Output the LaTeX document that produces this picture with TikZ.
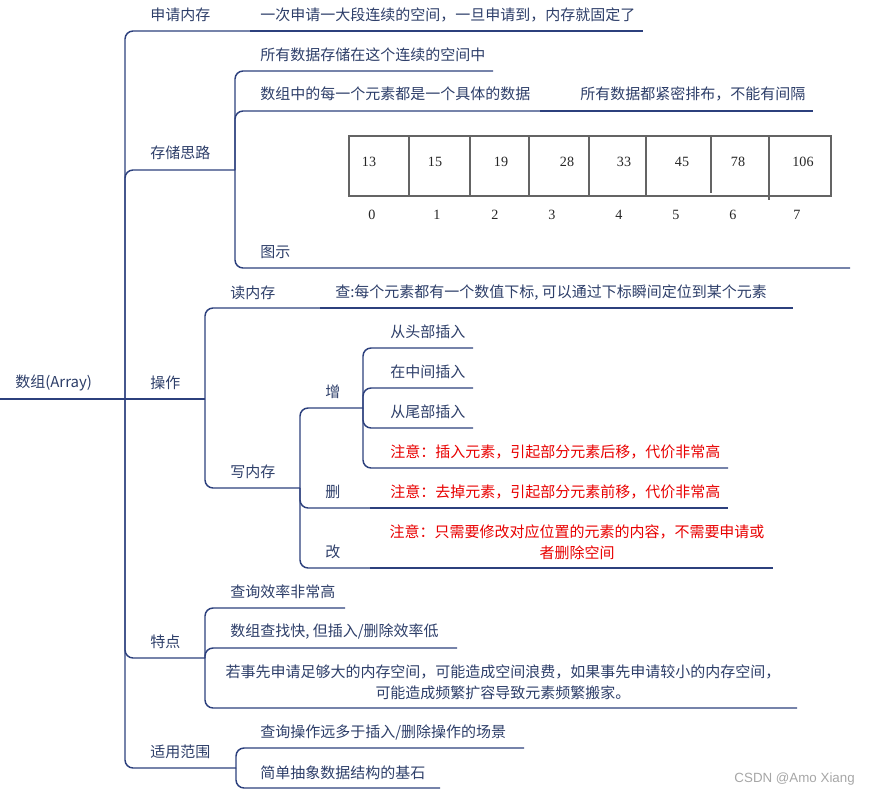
\documentclass[tikz,border=0pt]{standalone}
\usepackage{fontspec}
\setmainfont{Noto Sans CJK SC}
\newfontfamily\numfont{Liberation Serif}
\newfontfamily\wmfont{Liberation Sans}
\definecolor{lc}{RGB}{44,64,125}
\definecolor{tc}{RGB}{45,62,105}
\definecolor{rc}{RGB}{232,0,0}
\definecolor{ac}{RGB}{100,100,100}
\begin{document}
\begin{tikzpicture}[x=0.75pt,y=-0.75pt,
  lnk/.style={draw=lc,line width=1.1pt,rounded corners=6pt},
  tx/.style={anchor=west,inner sep=0pt,text=tc,font=\fontsize{11.25}{15.75}\selectfont},
  txc/.style={tx,anchor=center,align=center},
  rd/.style={tx,text=rc},
  rdc/.style={txc,text=rc},
  arr/.style={draw=ac,line width=0.8pt},
  num/.style={inner sep=0pt,text=black!85,font=\numfont\fontsize{10.6}{12}\selectfont}]
\useasboundingbox (0,0) rectangle (869,796);

% root
\coordinate (r0) at (0,399);
\coordinate (root) at (125,399);
\node[tx] (t-root) at (15,383) {数组(Array)};
\draw[lnk] (r0) -- (root);

% 申请内存
\coordinate (sq) at (250,31);
\coordinate (sqa) at (643,31);
\node[tx] (t-sq) at (150,15) {申请内存};
\node[tx] (t-sqa) at (260,15) {一次申请一大段连续的空间，一旦申请到，内存就固定了};
\draw[lnk] (root) |- (sq);
\draw[lnk] (sq) -- (sqa);

% 存储思路
\coordinate (cc) at (235,170);
\node[tx] (t-cc) at (150,153) {存储思路};
\draw[lnk] (root) |- (cc);
\coordinate (cc1) at (493,71);
\node[tx] (t-cc1) at (260,55) {所有数据存储在这个连续的空间中};
\draw[lnk] (cc) |- (cc1);
\coordinate (cc2) at (540,111);
\coordinate (cc2a) at (813,111);
\node[tx] (t-cc2) at (260,94) {数组中的每一个元素都是一个具体的数据};
\node[tx] (t-cc2a) at (580,94) {所有数据都紧密排布，不能有间隔};
\draw[lnk] (cc) |- (cc2);
\draw[lnk] (cc2) -- (cc2a);
\coordinate (cc3) at (850,268);
\node[tx] (t-cc3) at (260,252) {图示};
\draw[lnk] (cc) |- (cc3);

% array picture
\draw[arr] (349,136) rectangle (831,196);
\foreach \x in {409,470,529,589,646} \draw[arr] (\x,136) -- (\x,196);
\draw[arr] (711,136) -- (711,193);
\draw[arr] (769,136) -- (769,200);
\foreach \v/\x [count=\i] in {13/369,15/435,19/501,28/567,33/624,45/682,78/738,106/803}
  \node[num] (v\i) at (\x,162) {\v};
\foreach \v/\x [count=\i] in {0/372,1/437,2/495,3/552,4/619,5/676,6/733,7/797}
  \node[num] (k\i) at (\x,215) {\v};

% 操作
\coordinate (cz) at (205,399);
\node[tx] (t-cz) at (150,383) {操作};
\draw[lnk] (root) -- (cz);
\coordinate (dn) at (320,308);
\coordinate (dna) at (793,308);
\node[tx] (t-dn) at (230,293) {读内存};
\node[tx] (t-dna) at (335,293) {查:每个元素都有一个数值下标, 可以通过下标瞬间定位到某个元素};
\draw[lnk] (cz) |- (dn);
\draw[lnk] (dn) -- (dna);
\coordinate (xn) at (300,488);
\node[tx] (t-xn) at (230,472) {写内存};
\draw[lnk] (cz) |- (xn);

% 增
\coordinate (zg) at (363,408);
\node[tx] (t-zg) at (325,392) {增};
\draw[lnk] (xn) |- (zg);
\coordinate (zg1) at (473,348);
\coordinate (zg2) at (473,388);
\coordinate (zg3) at (473,428);
\coordinate (zg4) at (728,468);
\node[tx] (t-zg1) at (390,332) {从头部插入};
\node[tx] (t-zg2) at (390,372) {在中间插入};
\node[tx] (t-zg3) at (390,412) {从尾部插入};
\node[rd] (t-zg4) at (390,452) {注意：插入元素，引起部分元素后移，代价非常高};
\draw[lnk] (zg) |- (zg1);
\draw[lnk] (zg) |- (zg2);
\draw[lnk] (zg) |- (zg3);
\draw[lnk] (zg) |- (zg4);

% 删
\coordinate (sc) at (370,508);
\coordinate (sca) at (728,508);
\node[tx] (t-sc) at (325,492) {删};
\node[rd] (t-sca) at (390,492) {注意：去掉元素，引起部分元素前移，代价非常高};
\draw[lnk] (xn) |- (sc);
\draw[lnk] (sc) -- (sca);

% 改
\coordinate (gg) at (370,568);
\coordinate (gga) at (773,568);
\node[tx] (t-gg) at (325,552) {改};
\node[rdc] (t-gga) at (577,542) {注意：只需要修改对应位置的元素的内容，不需要申请或\\者删除空间};
\draw[lnk] (xn) |- (gg);
\draw[lnk] (gg) -- (gga);

% 特点
\coordinate (td) at (205,658);
\node[tx] (t-td) at (150,642) {特点};
\draw[lnk] (root) |- (td);
\coordinate (td1) at (345,608);
\coordinate (td2) at (457,648);
\coordinate (td3) at (797,708);
\node[tx] (t-td1) at (230,592) {查询效率非常高};
\node[tx] (t-td2) at (230,632) {数组查找快, 但插入/删除效率低};
\node[txc] (t-td3) at (503,682) {若事先申请足够大的内存空间，可能造成空间浪费，如果事先申请较小的内存空间，\\可能造成频繁扩容导致元素频繁搬家。};
\draw[lnk] (td) |- (td1);
\draw[lnk] (td) |- (td2);
\draw[lnk] (td) |- (td3);

% 适用范围
\coordinate (sy) at (236,768);
\node[tx] (t-sy) at (150,752) {适用范围};
\draw[lnk] (root) |- (sy);
\coordinate (sy1) at (524,748);
\coordinate (sy2) at (440,788);
\node[tx] (t-sy1) at (260,732) {查询操作远多于插入/删除操作的场景};
\node[tx] (t-sy2) at (260,773) {简单抽象数据结构的基石};
\draw[lnk] (sy) |- (sy1);
\draw[lnk] (sy) |- (sy2);

% watermark
\node[anchor=east,inner sep=0pt,text=black!35,font=\wmfont\fontsize{10}{12}\selectfont] (wm) at (855,779) {CSDN @Amo Xiang};
\end{tikzpicture}
\end{document}
